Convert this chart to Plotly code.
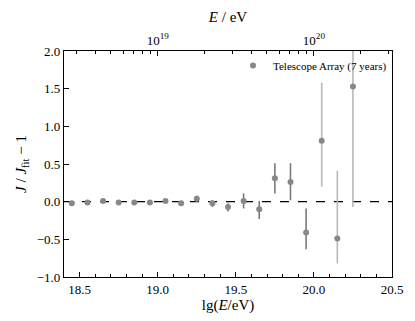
import numpy as np
import plotly.graph_objects as go

lgE = [18.45, 18.55, 18.65, 18.75, 18.85, 18.95, 19.05, 19.15, 19.25, 19.35,
       19.45, 19.55, 19.65, 19.75, 19.85, 19.95, 20.05, 20.15, 20.25]
ratio = [-0.02, -0.01, 0.01, -0.01, -0.01, -0.01, 0.01, -0.02, 0.04, -0.02,
         -0.07, 0.01, -0.10, 0.31, 0.26, -0.41, 0.81, -0.49, 1.53]
err_up = [0.01, 0.01, 0.01, 0.01, 0.01, 0.01, 0.02, 0.03, 0.04, 0.04,
          0.05, 0.10, 0.11, 0.20, 0.25, 0.32, 0.77, 0.90, 1.10]
err_dn = [0.01, 0.01, 0.01, 0.01, 0.01, 0.01, 0.02, 0.03, 0.04, 0.05,
          0.06, 0.10, 0.13, 0.20, 0.24, 0.22, 0.61, 0.33, 1.60]
light = [False] * 16 + [True] * 3

top_major = [19, 20]
top_major_text = ["10<sup>19</sup>", "10<sup>20</sup>"]
top_minor = [np.log10(k) + e for e in [18, 19, 20] for k in range(2, 10)]

FONT = "Liberation Serif"
MARK = "#888888"
DARK = "#7a7a7a"
LIGHT = "#b8b8b8"

fig = go.Figure()
# anchor trace for the bottom axis (invisible)
fig.add_trace(go.Scatter(x=[lgE[0]], y=[ratio[0]], xaxis="x", mode="markers",
                         marker=dict(opacity=0), showlegend=False, hoverinfo="skip"))

# error bars as vertical segments built from the data arrays
for is_light, col in [(False, DARK), (True, LIGHT)]:
    ex, ey = [], []
    for i in range(len(lgE)):
        if light[i] != is_light:
            continue
        ex += [lgE[i], lgE[i], None]
        ey += [ratio[i] - err_dn[i], ratio[i] + err_up[i], None]
    fig.add_trace(go.Scatter(x=ex, y=ey, xaxis="x2", mode="lines",
                             line=dict(color=col, width=1.6),
                             showlegend=False, hoverinfo="skip"))

fig.add_trace(go.Scatter(
    x=lgE, y=ratio, xaxis="x2", mode="markers", name="Telescope Array (7 years)",
    marker=dict(color=MARK, size=6), showlegend=True,
))

fig.add_shape(type="line", xref="paper", yref="y", x0=0, x1=1, y0=0, y1=0,
              line=dict(color="black", width=1.2, dash="dash"), layer="below")

fig.update_layout(
    width=415, height=321,
    margin=dict(l=64, r=12, t=51, b=39),
    paper_bgcolor="white", plot_bgcolor="white",
    font=dict(family=FONT, size=13, color="black"),
    showlegend=True,
    legend=dict(x=1.0, y=1.0, xanchor="right", yanchor="top",
                bgcolor="rgba(0,0,0,0)", font=dict(size=11, family=FONT),
                itemwidth=30, tracegroupgap=0),
    xaxis=dict(range=[18.4, 20.5], tickvals=[18.5, 19.0, 19.5, 20.0, 20.5],
               ticktext=["18.5", "19.0", "19.5", "20.0", "20.5"],
               ticks="inside", ticklen=5, tickwidth=1, tickcolor="black",
               minor=dict(ticks="inside", ticklen=3, dtick=0.1, tick0=18.4, tickcolor="black"),
               showline=True, linecolor="black", linewidth=1.3, mirror=False,
               showgrid=False, zeroline=False,
               title=dict(text="lg(<i>E</i>/eV)", standoff=2, font=dict(size=15))),
    xaxis2=dict(range=[18.4, 20.5], overlaying="x", side="top", anchor="y",
                tickvals=top_major, ticktext=top_major_text,
                ticks="inside", ticklen=5, tickwidth=1, tickcolor="black",
                minor=dict(ticks="inside", ticklen=3, tickvals=top_minor, tickcolor="black"),
                showline=True, linecolor="black", linewidth=1.3,
                showgrid=False, zeroline=False,
                title=dict(text="<i>E</i> / eV", standoff=4, font=dict(size=15))),
    yaxis=dict(range=[-1.0, 2.0], tickvals=[-1.0, -0.5, 0.0, 0.5, 1.0, 1.5, 2.0],
               ticktext=["\u22121.0", "\u22120.5", "0.0", "0.5", "1.0", "1.5", "2.0"],
               ticks="inside", ticklen=5, tickwidth=1, tickcolor="black",
               showline=True, linecolor="black", linewidth=1.3, mirror=True,
               showgrid=False, zeroline=False,
               title=dict(text="<i>J</i> / <i>J</i><sub>fit</sub> \u2212 1", standoff=6,
                          font=dict(size=15))),
)

fig.write_html("out.html")
